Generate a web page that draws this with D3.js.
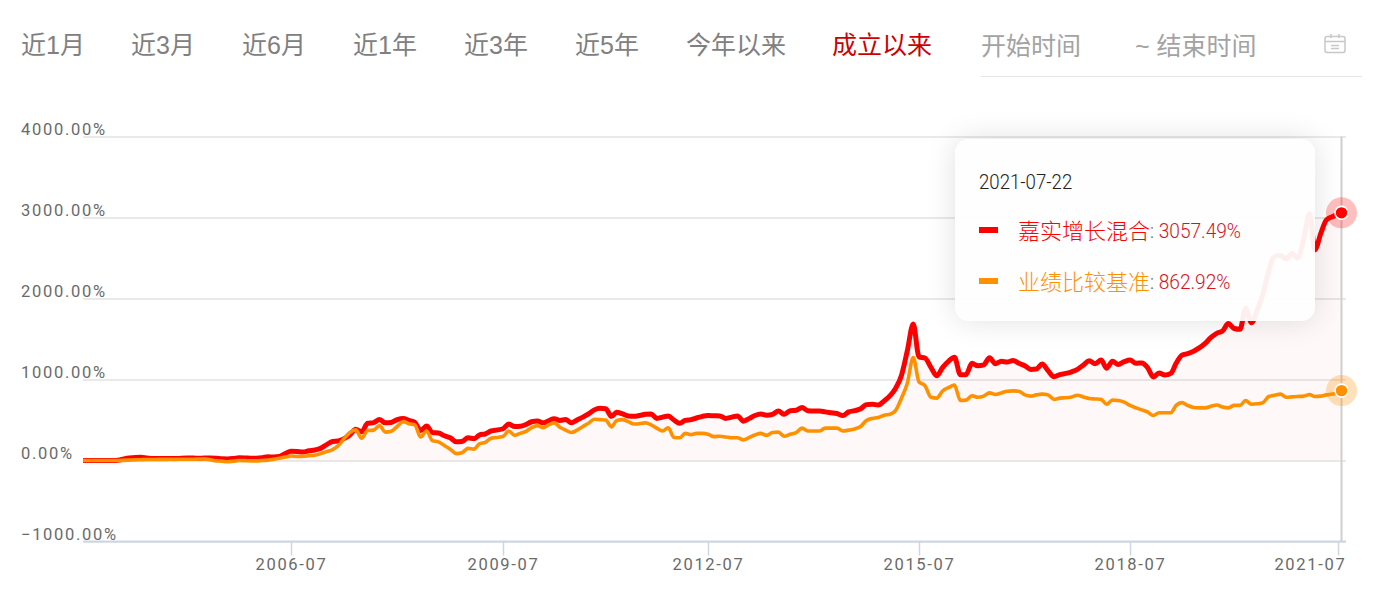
<!DOCTYPE html>
<html>
<head>
<meta charset="utf-8">
<script src="https://d3js.org/d3.v7.min.js"></script>
<style>
html, body { margin: 0; background: #fff; overflow: hidden; }
#chart { position: absolute; left: 0; top: 0; }
.tab { font: 25px "Liberation Sans", "Noto Sans CJK SC", sans-serif; fill: #808080; }
.tick text { font: 16.5px Roboto, sans-serif; letter-spacing: 1.7px; fill: #6a6a6a; }
#tip {
  position: absolute; left: 955px; top: 139px; width: 360px; height: 182px;
  box-sizing: border-box; border-radius: 14px;
  background: rgba(254, 254, 254, 0.94);
  box-shadow: 0 0 30px rgba(0, 0, 0, 0.12);
  font-family: Roboto, "Noto Sans CJK SC", sans-serif;
}
#tip div { position: absolute; white-space: nowrap; }
#tip .date { left: 24px; top: 31px; font-size: 20px; font-weight: 300; color: #222; transform: scaleX(0.93); transform-origin: left; }
#tip .sw { left: 24px; width: 19px; height: 6px; }
#tip .name { left: 63px; font-size: 22px; font-weight: 300; }
#tip .val { left: 195px; font-size: 21px; font-weight: 300; color: #d5141f; transform: scaleX(0.91); transform-origin: left; }
</style>
</head>
<body>
<svg id="chart" width="1388" height="601"></svg>
<div id="tip"></div>
<script>
// period buttons along the top
var tabs = ["近1月", "近3月", "近6月", "近1年", "近3年", "近5年", "今年以来", "成立以来"];
var tabX = [21, 131, 242, 353, 464, 575, 686, 832];

var yTicks = [-1000, 0, 1000, 2000, 3000, 4000];
var xTickLabels = ["2006-07", "2009-07", "2012-07", "2015-07", "2018-07", "2021-07"];

var names = ["嘉实增长混合", "业绩比较基准"];
var colors = ["#ff0000", "#ff9000"];
var lastDate = "2021-07-22";

// month end readings, one row per Jul..Jun, the last row is 2021-07 and 07-22
var fund = [
  0, 0, 0, 0, 0, 0, 3, 18, 30, 38, 40, 32,
  25, 25, 24, 26, 24, 28, 30, 30, 28, 30, 30, 28,
  22, 20, 25, 33, 32, 27, 28, 35, 45, 44, 50, 85,
  115, 112, 105, 120, 130, 150, 195, 235, 240, 270, 315, 385,
  355, 460, 468, 505, 465, 470, 505, 520, 495, 470, 370, 425,
  345, 340, 305, 280, 230, 235, 280, 270, 315, 330, 365, 378,
  392, 450, 420, 423, 445, 478, 488, 465, 490, 515, 495, 505,
  465, 500, 535, 575, 625, 645, 640, 545, 595, 575, 550, 545,
  555, 570, 575, 520, 535, 550, 500, 460, 495, 505, 525, 545,
  555, 552, 550, 520, 535, 550, 485, 520, 555, 575, 560, 570,
  610, 570, 615, 620, 655, 615, 612, 612, 600, 590, 580, 555,
  600, 615, 640, 690, 695, 685, 735, 800, 890, 1050, 1350, 1685,
  1280, 1265, 1150, 1045, 1150, 1225, 1275, 1060, 1060, 1200, 1170, 1180,
  1270, 1195, 1225, 1215, 1235, 1200, 1170, 1125, 1130, 1190, 1110, 1035,
  1060, 1075, 1095, 1125, 1180, 1230, 1195, 1240, 1140, 1225, 1185, 1220,
  1240, 1200, 1205, 1150, 1030, 1080, 1055, 1075, 1200, 1300, 1320, 1350,
  1390, 1445, 1520, 1570, 1600, 1690, 1630, 1620, 1880, 1700, 1850, 2060,
  2340, 2520, 2530, 2490, 2555, 2500, 2730, 3050, 2600, 2800, 2970, 3010,
  3040, 3057.49
];

var bench = [
  0, 0, 0, 0, 0, 0, 0, 2, 5, 8, 10, 12,
  12, 14, 14, 15, 14, 15, 16, 16, 18, 20, 10, -5,
  -8, -15, -8, 0, -2, -5, -5, 0, 5, 15, 28, 42,
  55, 50, 52, 60, 65, 85, 110, 135, 180, 270, 345, 378,
  275, 370, 375, 430, 350, 360, 420, 480, 455, 440, 290, 365,
  245, 230, 185, 140, 85, 95, 150, 140, 205, 225, 275, 285,
  295, 365, 310, 335, 360, 405, 430, 405, 440, 465, 410, 375,
  345, 375, 420, 460, 510, 505, 500, 415, 495, 505, 480, 450,
  455, 465, 440, 400, 365, 405, 285, 280, 335, 320, 335, 335,
  325, 295, 300, 290, 280, 280, 255, 285, 315, 335, 310, 345,
  350, 300, 325, 345, 400, 365, 365, 365, 400, 400, 400, 365,
  375, 390, 420, 495, 520, 530, 560, 570, 615, 770, 950, 1270,
  970, 925, 780, 770, 860, 900, 930, 740, 745, 800, 780, 795,
  835, 815, 835, 855, 860, 855, 810, 795, 810, 820, 810, 755,
  770, 775, 785, 805, 785, 765, 760, 755, 695, 745, 740, 720,
  680, 650, 625, 600, 555, 590, 590, 590, 680, 715, 680, 655,
  650, 650, 670, 685, 660, 650, 680, 680, 740, 695, 700, 715,
  790, 805, 820, 780, 785, 790, 795, 815, 790, 795, 810, 820,
  835, 862.92
];

var parseMonth = d3.utcParse("%Y-%m");
var parseDay = d3.utcParse("%Y-%m-%d");

var firstMonth = parseMonth("2003-07");
var endDate = parseDay(lastDate);
var dates = d3.utcMonth.range(firstMonth, d3.utcMonth.offset(parseMonth("2021-07"), 1));
dates.push(endDate);

var tickDates = xTickLabels.map(parseMonth);

var svg = d3.select("#chart");

// the source axis runs on trading days, so the tick spacing is not quite even
var x = d3.scaleUtc()
  .domain([firstMonth].concat(tickDates, [endDate]))
  .range([83, 291, 503, 708, 919, 1130, 1338, 1341.5]);

var y = d3.scaleLinear().domain([-1000, 4000]).range([541.5, 136.5]);

// top bar
svg.selectAll(".tab").data(tabs).enter().append("text")
  .attr("class", "tab")
  .attr("x", (d, i) => tabX[i])
  .attr("y", 54)
  .style("fill", (d, i) => i == 7 ? "#cc0000" : null)
  .text(d => d);

svg.append("text").attr("class", "tab").attr("x", 981).attr("y", 55).style("fill", "#a3a3a3").text("开始时间");
svg.append("text").attr("class", "tab").attr("x", 1135).attr("y", 55).style("fill", "#a3a3a3").text("~ 结束时间");
svg.append("line").attr("x1", 981).attr("x2", 1362).attr("y1", 76.5).attr("y2", 76.5).attr("stroke", "#e6e6e6");

// calendar icon
var cal = svg.append("g").attr("fill", "none").attr("stroke", "#c8c8c8").attr("stroke-width", 1.5);
cal.append("rect").attr("x", 1325).attr("y", 36.5).attr("width", 20).attr("height", 16).attr("rx", 2);
cal.append("path").attr("d", "M1325 41.5H1345M1331 34V38M1339 34V38M1331 45.5H1339M1331 48.5H1339");

// y axis is only the grid lines with the labels sitting above them
var yAxis = d3.axisLeft(y)
  .tickValues(yTicks)
  .tickSize(-(1346 - 83))
  .tickFormat(d => d3.format(".2f")(d) + "%");

var gy = svg.append("g").attr("transform", "translate(83,0)").call(yAxis);
gy.select(".domain").remove();
gy.selectAll(".tick line").attr("stroke", "#e9e9e9").attr("stroke-width", 2);
gy.selectAll(".tick text")
  .attr("text-anchor", "start")
  .attr("x", -62)
  .attr("dy", "-0.12em");

var xAxis = d3.axisBottom(x)
  .tickValues(tickDates)
  .tickSize(14)
  .tickPadding(3)
  .tickFormat(d3.utcFormat("%Y-%m"));

var gx = svg.append("g").attr("transform", "translate(0,541.5)").call(xAxis);
gx.select(".domain").attr("d", "M83,0H1346").attr("stroke", "#cdd6e6").attr("stroke-width", 2);
gx.selectAll(".tick line").attr("stroke", "#cdd6e6").attr("stroke-width", 1.5);
gx.selectAll(".tick text").filter((d, i) => i == 5)
  .attr("text-anchor", "end")
  .attr("x", 8);

// pale area under the fund line
var area = d3.area()
  .x((d, i) => x(dates[i]))
  .y0(y(0))
  .y1(d => y(d))
  .curve(d3.curveMonotoneX);

svg.append("path").datum(fund)
  .attr("d", area)
  .attr("fill", "#e8502d")
  .attr("fill-opacity", 0.035);

var line = d3.line()
  .x((d, i) => x(dates[i]))
  .y(d => y(d))
  .curve(d3.curveMonotoneX);

svg.append("path").datum(fund)
  .attr("d", line)
  .attr("fill", "none")
  .attr("stroke", colors[0])
  .attr("stroke-width", 5)
  .attr("stroke-linejoin", "round");

svg.append("path").datum(bench)
  .attr("d", line)
  .attr("fill", "none")
  .attr("stroke", colors[1])
  .attr("stroke-width", 3.6)
  .attr("stroke-linejoin", "round");

// hover line and end markers
svg.append("line")
  .attr("x1", x(endDate)).attr("x2", x(endDate))
  .attr("y1", y(4000)).attr("y2", y(-1000))
  .attr("stroke", "#d2cecd").attr("stroke-width", 2);

[fund, bench].forEach(function(s, i) {
  var v = s[s.length - 1];
  svg.append("circle").attr("cx", x(endDate)).attr("cy", y(v)).attr("r", 15.5)
    .attr("fill", colors[i]).attr("fill-opacity", i == 0 ? 0.25 : 0.28);
  svg.append("circle").attr("cx", x(endDate)).attr("cy", y(v)).attr("r", 6.5)
    .attr("fill", colors[i]).attr("stroke", "#fff").attr("stroke-width", 1.6);
});

// tooltip
var tip = d3.select("#tip");
tip.append("div").attr("class", "date").text(lastDate);
[fund, bench].forEach(function(s, i) {
  var top = 87 + i * 50.5;
  tip.append("div").attr("class", "sw").style("top", top + 1 + "px").style("background", colors[i]);
  tip.append("div").attr("class", "name").style("top", top - 13 + "px").style("color", colors[i]).text(names[i]);
  tip.append("div").attr("class", "val").style("top", top - 7 + "px")
    .html('<span style="color:#666">:</span> ' + d3.format(".2f")(s[s.length - 1]) + "%");
});
</script>
</body>
</html>
